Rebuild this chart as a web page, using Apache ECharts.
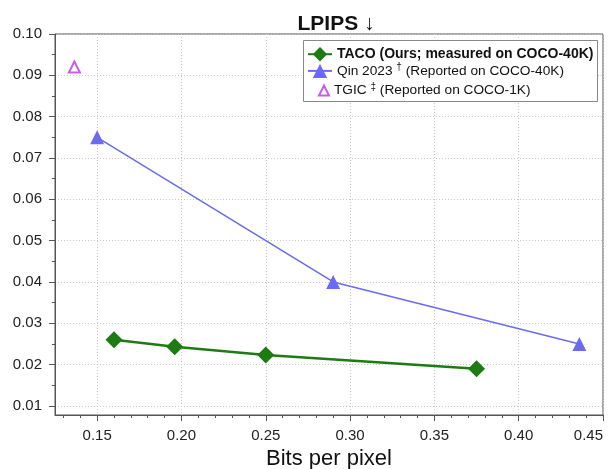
<!DOCTYPE html>
<html><head><meta charset="utf-8">
<script src="https://cdn.jsdelivr.net/npm/echarts@6/dist/echarts.min.js"></script>
<style>html,body{margin:0;padding:0;background:#fff}#c{width:608px;height:469px}</style>
</head><body><div id="c"></div>
<script>
const tacoX = [0.16, 0.196, 0.25, 0.375];
const tacoY = [0.026, 0.0243, 0.0223, 0.019];
const qinX = [0.15, 0.29, 0.436];
const qinY = [0.075, 0.040, 0.025];
const tgicX = [0.1365];
const tgicY = [0.092];
const xTicks = [0.15, 0.20, 0.25, 0.30, 0.35, 0.40, 0.45];
const xMinor = [0.13, 0.14, 0.16, 0.17, 0.18, 0.19, 0.21, 0.22, 0.23, 0.24, 0.26, 0.27, 0.28, 0.29, 0.31, 0.32, 0.33, 0.34, 0.36, 0.37, 0.38, 0.39, 0.41, 0.42, 0.43, 0.44];
const yTicks = [0.01, 0.02, 0.03, 0.04, 0.05, 0.06, 0.07, 0.08, 0.09, 0.10];
const yMinor = [0.015, 0.025, 0.035, 0.045, 0.055, 0.065, 0.075, 0.085, 0.095];

const X_MIN = 0.125, X_MAX = 0.45, Y_MIN = 0.0078, Y_MAX = 0.10;
const FONT = 'Liberation Sans, Arial, sans-serif';
const zip = (a, b) => a.map((v, i) => [v, b[i]]);

const chart = echarts.init(document.getElementById('c'), null, {renderer: 'canvas'});
const axisCommon = {
  type: 'value', axisLine: {show: true, lineStyle: {color: '#555', width: 1}},
  splitLine: {show: true, lineStyle: {color: '#c8c8c8', type: [1, 2], width: 1}},
};
const richStyles = {
  b: {fontFamily: FONT, fontSize: 14, fontWeight: 'bold', color: '#111'},
  n: {fontFamily: FONT, fontSize: 13.7, color: '#111'},
  s: {fontFamily: FONT, fontSize: 10, color: '#111', padding: [0, 0, 7, 0]}
};
chart.setOption({
  animation: false,
  backgroundColor: '#fff',
  title: {text: 'LPIPS ↓', left: 331, textAlign: 'center', top: 9,
    textStyle: {fontFamily: FONT, fontSize: 21, fontWeight: 'bold', color: '#111'}},
  grid: {left: 55, right: 5, top: 34, bottom: 54, show: true, borderColor: '#555', borderWidth: 1,
    containLabel: false, outerBoundsMode: 'none'},
  graphic: [{type: 'rect', left: 303, top: 40, shape: {width: 294, height: 61},
    style: {fill: '#fff', stroke: '#888', lineWidth: 1}, z: 90}],
  xAxis: [
    Object.assign({}, axisCommon, {min: X_MIN, max: X_MAX,
      name: 'Bits per pixel', nameLocation: 'middle', nameGap: 31,
      nameTextStyle: {fontFamily: FONT, fontSize: 22, color: '#111'},
      axisTick: {show: true, length: 6, customValues: xTicks, lineStyle: {color: '#555'}},
      axisLabel: {customValues: xTicks, fontFamily: FONT, fontSize: 15, color: '#222', margin: 13,
        alignMaxLabel: 'right', formatter: v => v.toFixed(2)}
    }),
    {type: 'value', min: X_MIN, max: X_MAX, position: 'bottom', axisLine: {show: false},
      splitLine: {show: false}, axisLabel: {show: false},
      axisTick: {show: true, length: 3, customValues: xMinor, lineStyle: {color: '#555'}}}
  ],
  yAxis: [
    Object.assign({}, axisCommon, {min: Y_MIN, max: Y_MAX,
      axisTick: {show: true, length: 6, customValues: yTicks, lineStyle: {color: '#555'}},
      axisLabel: {customValues: yTicks, fontFamily: FONT, fontSize: 15, color: '#222', margin: 13,
        formatter: v => v.toFixed(2)}
    }),
    {type: 'value', min: Y_MIN, max: Y_MAX, position: 'left', axisLine: {show: false},
      splitLine: {show: false}, axisLabel: {show: false},
      axisTick: {show: true, length: 3, customValues: yMinor, lineStyle: {color: '#555'}}}
  ],
  legend: [
    {orient: 'vertical', left: 307, top: 47, padding: 0, itemGap: 1, itemTextGap: 5,
      itemWidth: 24, itemHeight: 18, z: 100,
      data: ['TACO', 'Qin'],
      formatter: function (n) {
        if (n === 'TACO') return '{b|TACO (Ours; measured on COCO-40K)}';
        return '{n|Qin 2023 }{s|†}{n| (Reported on COCO-40K)}';
      },
      textStyle: {fontFamily: FONT, fontSize: 13.7, color: '#111', rich: richStyles}},
    {orient: 'vertical', left: 318, top: 82, padding: 0, itemTextGap: 8,
      itemWidth: 10, itemHeight: 10, z: 100,
      data: ['TGIC'],
      formatter: () => '{n|TGIC }{s|‡}{n| (Reported on COCO-1K)}',
      textStyle: {fontFamily: FONT, fontSize: 13.7, color: '#111', rich: richStyles}}
  ],
  series: [
    {name: 'TACO', type: 'line', data: zip(tacoX, tacoY), symbol: 'diamond', symbolSize: 17,
      lineStyle: {color: '#1e7a12', width: 2.5}, itemStyle: {color: '#1e7a12'}, z: 5},
    {name: 'Qin', type: 'line', data: zip(qinX, qinY), symbol: 'triangle', symbolSize: 14,
      lineStyle: {color: '#6a6af2', width: 1.5}, itemStyle: {color: '#6a6af2'}, z: 4},
    {name: 'TGIC', type: 'scatter', data: zip(tgicX, tgicY), symbol: 'triangle', symbolSize: 11,
      itemStyle: {color: '#fff', borderColor: '#b534ec', borderWidth: 2}, z: 4}
  ]
});
</script></body></html>
